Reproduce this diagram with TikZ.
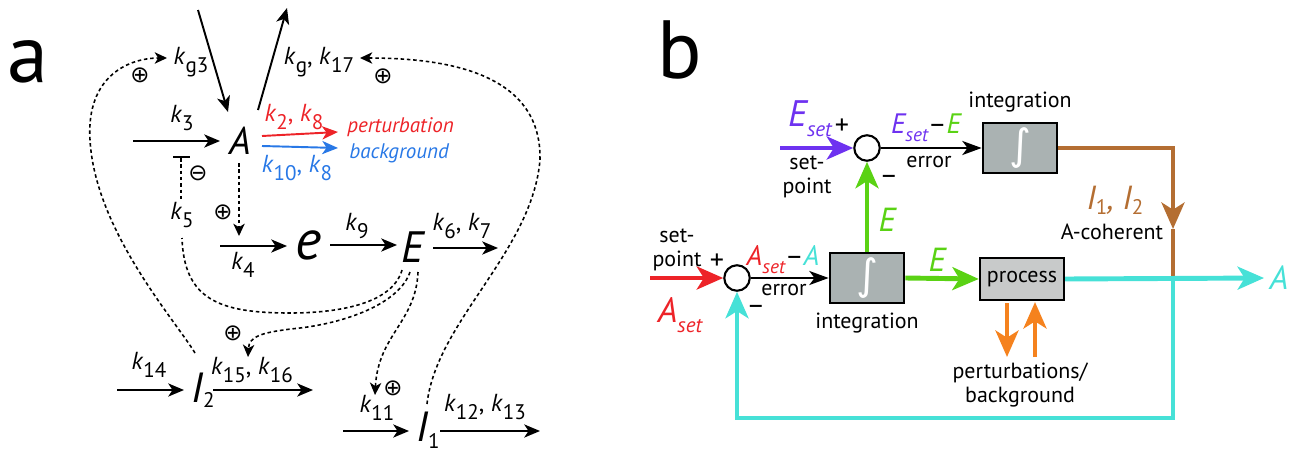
\documentclass[tikz,border=0pt]{standalone}
\usepackage{fontspec}
\setmainfont{PT Sans}
\newfontfamily\djv{DejaVu Sans}
\usetikzlibrary{arrows.meta}
\definecolor{cred}{RGB}{237,35,40}
\definecolor{cblue}{RGB}{40,120,230}
\definecolor{cpurple}{RGB}{110,50,240}
\definecolor{cgreen}{RGB}{90,210,20}
\definecolor{ccyan}{RGB}{70,225,215}
\definecolor{cbrown}{RGB}{180,110,50}
\definecolor{corange}{RGB}{245,130,30}
\definecolor{cgray}{RGB}{170,178,178}
\definecolor{clgray}{RGB}{200,202,202}
\newcommand\fs[1]{\fontsize{#1}{#1}\selectfont}
\newcommand\sbs[3]{\raisebox{-#3}{\fs{#1}#2}}
\newcommand\kk[1]{\textit{k}\sbs{12}{#1}{4.5pt}}
\newcommand\intg{{\djv\fs{24}\color{white}∫}}
\begin{document}
\begin{tikzpicture}[x=0.02cm,y=-0.02cm,
  every node/.style={inner sep=0pt},
  lab/.style={font=\fs{14}},
  txt/.style={font=\fontsize{12.5}{13.5}\selectfont,align=center},
  arr/.style={line width=1.1pt,-{Stealth[length=9pt,width=7.5pt,inset=2.5pt]}},
  dsh/.style={line width=0.9pt,dash pattern=on 2pt off 1.6pt},
  darr/.style={dsh,-{Stealth[length=7pt,width=6.5pt,inset=2pt]}},
  sgn/.style={font=\djv\fs{13}},
  circ/.style={circle,draw,line width=1.2pt,minimum size=14.5pt,fill=white},
  ibox/.style={draw,line width=1.2pt,fill=cgray,minimum width=42.5pt,minimum height=28.4pt},
  pbox/.style={draw,line width=1.2pt,fill=clgray,minimum width=48pt,minimum height=23.8pt,font=\fs{12.5}},
  thk/.style={line width=2.8pt,-{Stealth[length=15pt,width=13pt,inset=4pt]}},
  thn/.style={line width=1.2pt,-{Stealth[length=11pt,width=8pt,inset=3pt]}},
  pm/.style={font=\fs{16}}]
\useasboundingbox (0,0) rectangle (1297,453);

% ---------------- panel a ----------------
\node[font=\fs{47}] (la) at (28,62) {a};

\node[lab] (kg3) at (191,62) {\kk{g3}};
\node[lab] (kg17) at (319,62) {\kk{g}, \kk{17}};
\node[lab] (k3) at (182,118) {\kk{3}};
\node[font=\fs{22}\itshape] (A) at (240,141) {A};
\node[lab,text=cred] (k28) at (294,117) {\kk{2}, \kk{8}};
\node[font=\fs{12}\itshape,text=cred,anchor=west] (pert) at (347,127) {perturbation};
\node[lab,text=cblue] (k108) at (297,168) {\kk{10}, \kk{8}};
\node[font=\fs{12}\itshape,text=cblue,anchor=west] (back) at (349,153) {background};
\node[lab] (k5) at (182,215) {\kk{5}};
\node[lab] (k4) at (243,265) {\kk{4}};
\node[font=\fs{32}\itshape] (e) at (309,245) {e};
\node[lab] (k9) at (357,226) {\kk{9}};
\node[font=\fs{25}\itshape] (E) at (413,247) {E};
\node[lab] (k67) at (462,226) {\kk{6}, \kk{7}};
\node[font=\fs{24}\itshape] (I2) at (203,390) {I\sbs{12}{\upshape 2}{3pt}};
\node[lab] (k14) at (149,365) {\kk{14}};
\node[lab] (k1516) at (252,370) {\kk{15}, \kk{16}};
\node[lab] (k11) at (377,408) {\kk{11}};
\node[font=\fs{24}\itshape] (I1) at (428,430) {I\sbs{12}{\upshape 1}{4pt}};
\node[lab] (k1213) at (485,407) {\kk{12}, \kk{13}};

\node[sgn] (p1) at (140,75) {⊕};
\node[sgn] (p2) at (383,76) {⊕};
\node[sgn] (m1) at (198,173) {⊖};
\node[sgn] (p3) at (223,212) {⊕};
\node[sgn] (p4) at (233,333) {⊕};
\node[sgn] (p5) at (393,388) {⊕};

% solid reaction arrows
\coordinate (tin) at (198,10); \coordinate (tinA) at (228,112);
\draw[arr] (tin) -- (tinA);
\coordinate (toutA) at (258,110); \coordinate (tout) at (287,8);
\draw[arr] (toutA) -- (tout);
\coordinate (k3s) at (133,141); \coordinate (k3e) at (220,141);
\draw[arr] (k3s) -- (k3e);
\coordinate (rs) at (262,136); \coordinate (re) at (338,132);
\draw[arr,cred] (rs) -- (re);
\coordinate (bs) at (262,146); \coordinate (be) at (338,148);
\draw[arr,cblue] (bs) -- (be);
\coordinate (k4s) at (220,246); \coordinate (k4e) at (287,246);
\draw[arr] (k4s) -- (k4e);
\coordinate (k9s) at (330,245); \coordinate (k9e) at (397,245);
\draw[arr] (k9s) -- (k9e);
\coordinate (k67s) at (433,248); \coordinate (k67e) at (498,248);
\draw[arr] (k67s) -- (k67e);
\coordinate (k14s) at (117,390); \coordinate (k14e) at (184,390);
\draw[arr] (k14s) -- (k14e);
\coordinate (k15s) at (213,390); \coordinate (k15e) at (313,390);
\draw[arr] (k15s) -- (k15e);
\coordinate (k11s) at (343,431); \coordinate (k11e) at (409,431);
\draw[arr] (k11s) -- (k11e);
\coordinate (k12s) at (440,431); \coordinate (k12e) at (540,431);
\draw[arr] (k12s) -- (k12e);

% regulation (dashed)
\coordinate (Ad) at (239,163); \coordinate (k4t) at (239,236);
\draw[darr] (Ad) -- (k4t);
\coordinate (tb1) at (173,157); \coordinate (tb2) at (190,157);
\draw[line width=1.1pt] (tb1) -- (tb2);
\coordinate (tbm) at (181,158); \coordinate (k5t) at (181,200);
\draw[dsh] (tbm) -- (k5t);
\coordinate (Eb1) at (402,270); \coordinate (k5b) at (182,238);
\draw[dsh] (Eb1) .. controls (392,305) and (335,313) .. (290,313)
  .. controls (220,313) and (184,300) .. (k5b);
\coordinate (Eb2) at (410,272); \coordinate (k15t) at (248,357);
\draw[darr] (Eb2) .. controls (400,302) and (350,322) .. (300,328)
  .. controls (262,332) and (249,336) .. (k15t);
\coordinate (Eb3) at (418,272); \coordinate (k11t) at (375,395);
\draw[darr] (Eb3) .. controls (416,322) and (378,335) .. (k11t);
\coordinate (I2t) at (195,353); \coordinate (kg3t) at (167,58);
\draw[darr] (I2t) .. controls (175,320) and (95,230) .. (90,140)
  .. controls (86,75) and (130,58) .. (kg3t);
\coordinate (I1t) at (427,404); \coordinate (k17t) at (360,58);
\draw[darr] (I1t) .. controls (436,322) and (532,252) .. (540,160)
  .. controls (542,70) and (440,58) .. (k17t);

% ---------------- panel b ----------------
\node[font=\fs{47}] (lb) at (680,50) {b};

\node[circ] (c1) at (867,148) {};
\node[circ] (c2) at (737,278) {};
\node[ibox] (b1) at (1020,148) {\intg};
\node[ibox] (b2) at (867,278) {\intg};
\node[pbox] (pr) at (1022,279) {process};

\coordinate (pin) at (780,148);
\draw[thk,cpurple] (pin) -- (c1.west);
\draw[thn] (c1.east) -- (b1.west);
\draw[thk,cgreen] (b2.north) -- (c1.south);
\coordinate (ain) at (650,278);
\draw[thk,cred] (ain) -- (c2.west);
\draw[thn] (c2.east) -- (b2.west);
\draw[thk,cgreen] (b2.east) -- (pr.west);

\coordinate (jn) at (1173,278);
\coordinate (bm) at (1173,229);
\coordinate (fb) at (1173,418);
\coordinate (aout) at (1264,278);
\draw[line width=2.8pt,cbrown,-{Stealth[length=15pt,width=13pt,inset=4pt]}] (b1.east) -| (bm);
\draw[line width=2.8pt,cbrown] (bm) -- (jn);
\draw[thk,ccyan] (pr.east) -- (aout);
\draw[thk,ccyan] (jn) -- (fb) -| (c2.south);

\coordinate (o1s) at (1007,303); \coordinate (o1e) at (1007,357);
\coordinate (o2s) at (1035,357); \coordinate (o2e) at (1035,302);
\draw[thk,corange] (o1s) -- (o1e);
\draw[thk,corange] (o2s) -- (o2e);

% labels b
\node[text=cpurple,font=\fs{21}\itshape] (Eset) at (810,119) {E\sbs{12}{set}{5.5pt}};
\node[pm] (plus1) at (842,127) {+};
\node[txt] (sp1) at (807,177) {set-\\point};
\node[font=\fs{16}] (err1) at (926,128) {{\color{cpurple}\itshape E\sbs{11}{set}{4.5pt}}–{\color{cgreen}\itshape E}};
\node[txt] (er1) at (929,162) {error};
\node[txt] (int1) at (1020,102) {integration};
\node[pm] (mn1) at (889,180) {–};
\node[text=cgreen,font=\fs{19}\itshape] (Eg1) at (887,220) {E};
\node[text=cbrown,font=\fs{19}\itshape] (I12) at (1115,200) {I\sbs{12}{\upshape 1}{3pt}, I\sbs{12}{\upshape 2}{3pt}};
\node[txt] (acoh) at (1112,232) {A-coherent};

\node[txt] (sp2) at (677,250) {set-\\point};
\node[pm] (plus2) at (717,262) {+};
\node[text=cred,font=\fs{20}\itshape] (Aset) at (680,315) {A\sbs{12}{set}{5.5pt}};
\node[font=\fs{16}] (err2) at (783,260) {{\color{cred}\itshape A\sbs{11}{set}{4.5pt}}–{\color{ccyan}\itshape A}};
\node[txt] (er2) at (784,290) {error};
\node[txt] (int2) at (867,323) {integration};
\node[text=cgreen,font=\fs{19}\itshape] (Eg2) at (937,260) {E};
\node[text=ccyan,font=\fs{19}\itshape] (Aout) at (1279,278) {A};
\node[pm] (mn2) at (756,310) {–};
\node[txt] (pb) at (1020,385) {perturbations/\\background};
\end{tikzpicture}
\end{document}
